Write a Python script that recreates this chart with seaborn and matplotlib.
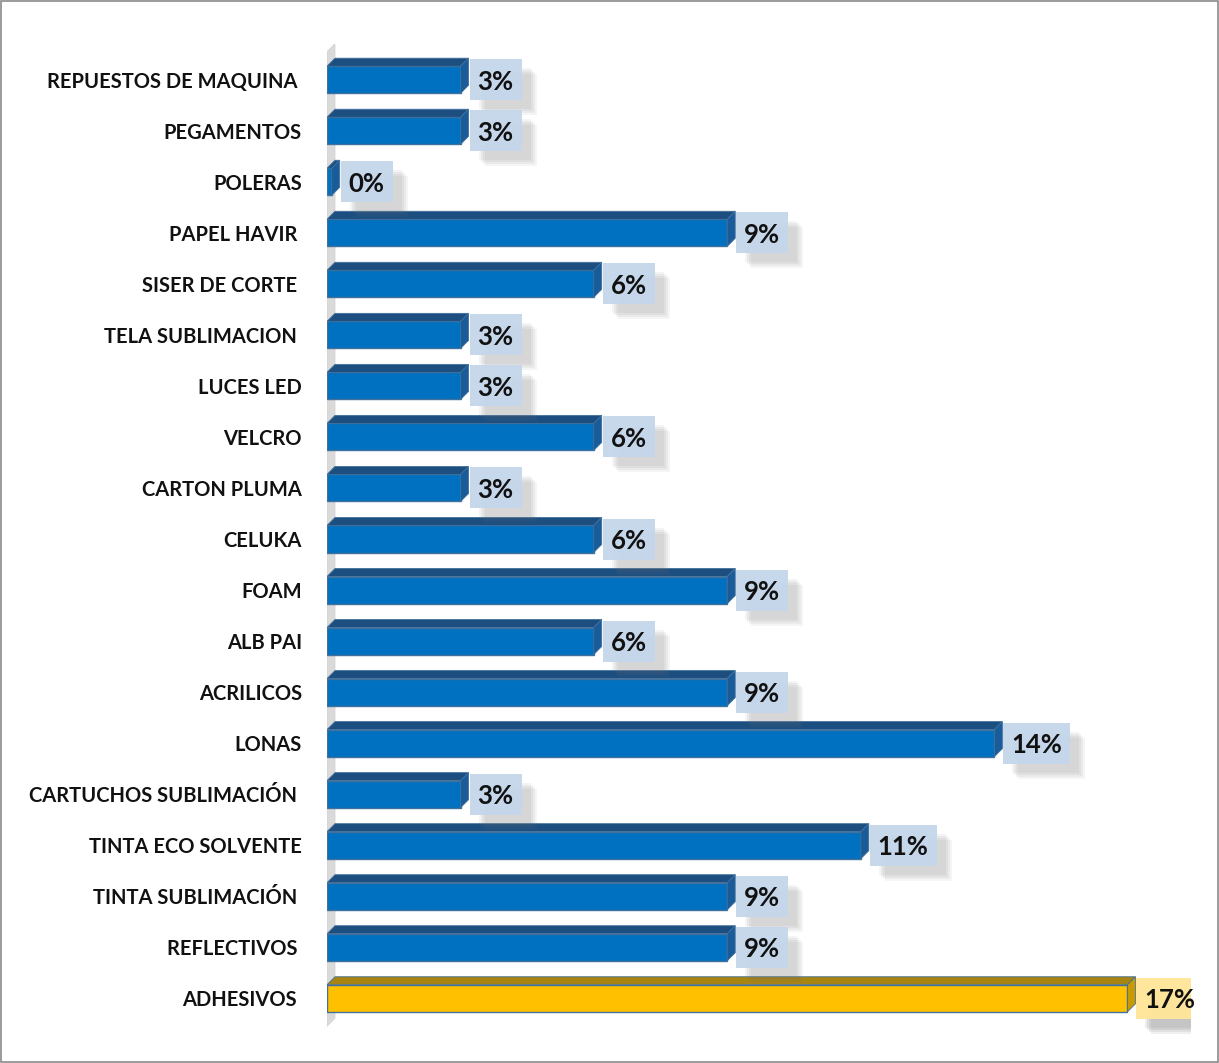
import matplotlib
matplotlib.use('Agg')
import matplotlib.pyplot as plt
import matplotlib.transforms as mtrans
from matplotlib.patches import Polygon, Rectangle
import seaborn as sns
import pandas as pd

categories = ["REPUESTOS DE MAQUINA ", "PEGAMENTOS", "POLERAS", "PAPEL HAVIR ",
              "SISER DE CORTE ", "TELA SUBLIMACION ", "LUCES LED", "VELCRO",
              "CARTON PLUMA", "CELUKA", "FOAM", "ALB PAI", "ACRILICOS", "LONAS",
              "CARTUCHOS SUBLIMACIÓN ", "TINTA ECO SOLVENTE", "TINTA SUBLIMACIÓN ",
              "REFLECTIVOS ", "ADHESIVOS "]
values = [2.86, 2.86, 0.1, 8.57, 5.71, 2.86, 2.86, 5.71, 2.86, 5.71, 8.57, 5.71,
          8.57, 14.29, 2.86, 11.43, 8.57, 8.57, 17.14]
value_labels = ["3%", "3%", "0%", "9%", "6%", "3%", "3%", "6%", "3%", "6%", "9%",
                "6%", "9%", "14%", "3%", "11%", "9%", "9%", "17%"]
group = ["base"] * 18 + ["top"]

sns.set_theme(style="white")
plt.rcParams['font.family'] = ['Lato', 'DejaVu Sans']

W, H = 1219, 1063
fig = plt.figure(figsize=(W / 100, H / 100), dpi=100)
ax_left, ax_right, ax_top, ax_bot = 327, 1191, 44, 1034
ax = fig.add_axes([ax_left / W, 1 - ax_bot / H, (ax_right - ax_left) / W, (ax_bot - ax_top) / H])

df = pd.DataFrame({"cat": categories, "val": values, "grp": group})
front = {"base": "#0070c0", "top": "#ffc000"}
topc = {"base": "#1c4e80", "top": "#a88410"}
sidec = {"base": "#1a5c9a", "top": "#c99a00"}
sns.barplot(data=df, x="val", y="cat", hue="grp", palette=front, orient="h",
            width=0.53, dodge=False, legend=False, ax=ax, saturation=1,
            edgecolor="#41719c", linewidth=1.0, zorder=3)

xmax = 18.5
ax.set_xlim(0, xmax)
ax.set_ylim(18.7, -0.7)
ax.set_xlabel("")
ax.set_ylabel("")
ax.set_xticks([])
for s in ax.spines.values():
    s.set_visible(False)
ax.tick_params(axis="y", length=0, pad=18)
for t in ax.get_yticklabels():
    t.set_fontweight("bold")
    t.set_fontsize(14.5)
    t.set_color("#111111")

# depth in data units (8 px)
dpx = 8
dx = xmax * dpx / (ax_right - ax_left)
dy = 19.4 * dpx / (ax_bot - ax_top)

# back wall
wall = Polygon([(0, 18.55), (dx, 18.55 - dy), (dx, -0.55 - dy), (0, -0.55)],
               closed=True, fc="#dadada", ec="#d0d0d0", lw=0.5, zorder=1)
ax.add_patch(wall)

texts = []
bars = [p for p in ax.patches if isinstance(p, Rectangle) and p.get_width() > 0]
for p in bars:
    x0, y0, w, h = p.get_x(), p.get_y(), p.get_width(), p.get_height()
    i = int(round(y0 + h / 2))
    g = group[i]
    yt, yb = y0, y0 + h
    top = Polygon([(x0, yt), (x0 + w, yt), (x0 + w + dx, yt - dy), (x0 + dx, yt - dy)],
                  closed=True, fc=topc[g], ec="#41719c", lw=0.6, zorder=3)
    side = Polygon([(x0 + w, yt), (x0 + w + dx, yt - dy), (x0 + w + dx, yb - dy), (x0 + w, yb)],
                   closed=True, fc=sidec[g], ec="#41719c", lw=0.6, zorder=3)
    ax.add_patch(top)
    ax.add_patch(side)

    tr = mtrans.offset_copy(ax.transData, fig=fig, x=9, y=-2, units="dots")
    t = ax.text(x0 + w + dx, y0 + h / 2, value_labels[i], transform=tr, ha="left",
                va="center", fontsize=18.5, fontweight="bold", color="#111111", zorder=7)
    texts.append((t, g))

fig.canvas.draw()
ident = mtrans.IdentityTransform()
for t, g in texts:
    bb = t.get_window_extent()
    bx0 = bb.x0 - 8
    bw = bb.width + 16
    cy = (bb.y0 + bb.y1) / 2 + 2
    bh = 41
    by0 = cy - bh / 2
    # soft shadow
    for ox, oy, al in [(15, -15, 0.07), (13, -13, 0.08), (11, -11, 0.09), (9, -9, 0.08)]:
        ax.add_patch(Rectangle((bx0 + ox, by0 + oy), bw, bh, transform=ident,
                               fc=(0.45, 0.45, 0.45, al * (1.5 if g == "top" else 1.0)),
                               ec="none", zorder=4))
    bg = "#ffe699" if g == "top" else "#c5d7eb"
    ax.add_patch(Rectangle((bx0, by0), bw, bh, transform=ident, fc=bg, ec="none",
                           alpha=0.97, zorder=6))

fig.patches.append(Rectangle((0.0008, 0.0008), 0.9984, 0.9984, transform=fig.transFigure,
                             fill=False, ec="#8a8a8a", lw=1.2))

fig.savefig("out.png", dpi=100)
